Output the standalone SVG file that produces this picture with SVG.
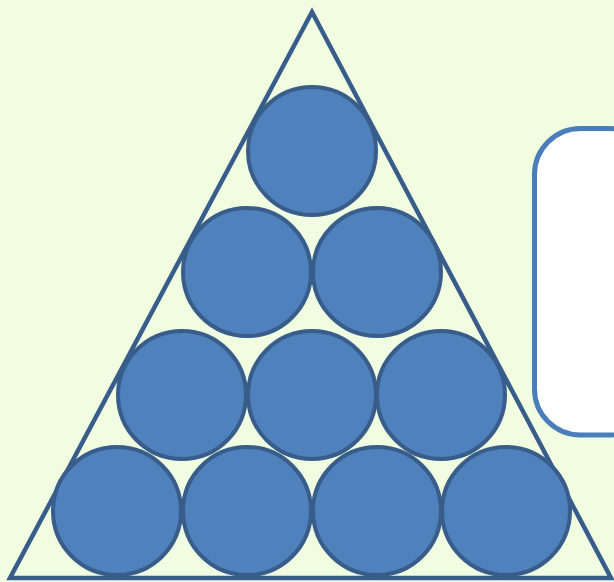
<svg xmlns="http://www.w3.org/2000/svg" width="614" height="582" viewBox="0 0 614 582">
  <style>
    .ball { fill: #4f81bd; stroke: #385d8a; stroke-width: 4; }
    .tri { fill: none; stroke: #385d8a; stroke-width: 4.5; stroke-linejoin: miter; }
    .box { fill: #ffffff; stroke: #4a7ebb; stroke-width: 5; }
  </style>
  <rect x="0" y="0" width="614" height="582" fill="#f0fde0"/>
  <g id="box">
    <rect class="box" x="534.5" y="128.5" width="120" height="306.5" rx="46" ry="46"/>
  </g>
  <g id="triangle">
    <polygon class="tri" points="312,12 10,578 611,578"/>
  </g>
  <g id="balls">
    <g id="ball1"><circle class="ball" cx="312" cy="151" r="64"/></g>
    <g id="ball2"><circle class="ball" cx="247" cy="272" r="64"/></g>
    <g id="ball3"><circle class="ball" cx="377" cy="272" r="64"/></g>
    <g id="ball4"><circle class="ball" cx="182" cy="395" r="64"/></g>
    <g id="ball5"><circle class="ball" cx="312" cy="395" r="64"/></g>
    <g id="ball6"><circle class="ball" cx="441" cy="395" r="64"/></g>
    <g id="ball7"><circle class="ball" cx="117" cy="511" r="64"/></g>
    <g id="ball8"><circle class="ball" cx="247" cy="511" r="64"/></g>
    <g id="ball9"><circle class="ball" cx="377" cy="511" r="64"/></g>
    <g id="ball10"><circle class="ball" cx="506" cy="511" r="64"/></g>
  </g>
</svg>
